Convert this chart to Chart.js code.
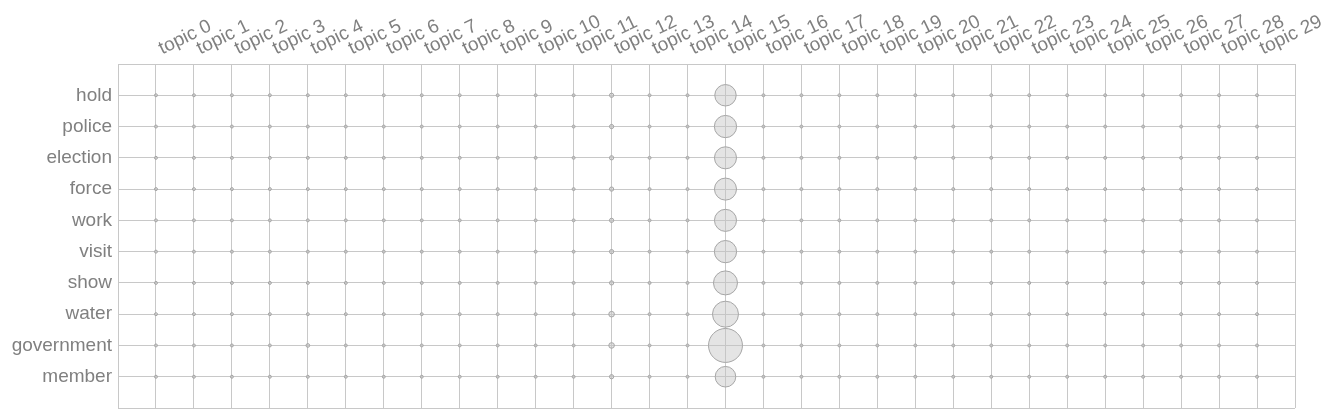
<!DOCTYPE html>
<html>
<head>
<meta charset="utf-8">
<script src="https://cdn.jsdelivr.net/npm/chart.js@4/dist/chart.umd.min.js"></script>
<style>
  html, body { margin: 0; padding: 0; background: #fff; overflow: hidden; }
  canvas { display: block; }
</style>
</head>
<body>
<canvas id="chart" width="1335" height="419"></canvas>
<script>
const topics = ['topic 0', 'topic 1', 'topic 2', 'topic 3', 'topic 4', 'topic 5', 'topic 6', 'topic 7',
  'topic 8', 'topic 9', 'topic 10', 'topic 11', 'topic 12', 'topic 13', 'topic 14', 'topic 15',
  'topic 16', 'topic 17', 'topic 18', 'topic 19', 'topic 20', 'topic 21', 'topic 22', 'topic 23',
  'topic 24', 'topic 25', 'topic 26', 'topic 27', 'topic 28', 'topic 29'];

const words = ['hold', 'police', 'election', 'force', 'work', 'visit', 'show', 'water', 'government', 'member'];

// word weight per topic
const hold       = [1,1,1,1,1,1,1,1,1,1,1,1,2,1,1,51,1,1,1,1,1,1,1,1,1,1,1,1,1,1];
const police     = [1,1,1,1,1,1,1,1,1,1,1,1,2,1,1,55,1,1,1,1,1,1,1,1,1,1,1,1,1,1];
const election   = [1,1,1,1,1,1,1,1,1,1,1,1,2,1,1,54,1,1,1,1,1,1,1,1,1,1,1,1,1,1];
const force      = [1,1,1,1,1,1,1,1,1,1,1,1,2,1,1,54,1,1,1,1,1,1,1,1,1,1,1,1,1,1];
const work       = [1,1,1,1,1,1,1,1,1,1,1,1,2,1,1,54,1,1,1,1,1,1,1,1,1,1,1,1,1,1];
const visit      = [1,1,1,1,1,1,1,1,1,1,1,1,2,1,1,55,1,1,1,1,1,1,1,1,1,1,1,1,1,1];
const show       = [1,1,1,1,1,1,1,1,1,1,1,1,2,1,1,64,1,1,1,1,1,1,1,1,1,1,1,1,1,1];
const water      = [1,1,1,1,1,1,1,1,1,1,1,1,3.5,1,1,75,1,1,1,1,1,1,1,1,1,1,1,1,1,1];
const government = [1,1,1,1,1.5,1,1,1,1,1,1,1,3.5,1,1,128,1,1,1,1,1,1,1,1,1,1,1,1,1,1];
const member     = [1,1,1,1,1,1,1,1,1,1,1,1,2,1,1,47,1,1,1,1,1,1,1,1,1,1,1,1,1,1];

const rows = [hold, police, election, force, work, visit, show, water, government, member];

const points = [];
rows.forEach((row, wi) => {
  row.forEach((v, ti) => {
    points.push({ x: ti, y: wi, r: Math.sqrt(v) * 1.5 });
  });
});

const textColor = '#808080';
const gridColor = '#c8c8c8';

new Chart(document.getElementById('chart'), {
  type: 'bubble',
  data: {
    datasets: [{
      data: points,
      backgroundColor: 'rgba(196, 196, 196, 0.45)',
      borderColor: '#a6a6a6',
      borderWidth: 1,
      hoverRadius: 0
    }]
  },
  options: {
    responsive: false,
    devicePixelRatio: 1,
    animation: false,
    // big bubbles would otherwise push the plot area inwards
    layout: { autoPadding: false, padding: { top: 0, right: 40, bottom: 11, left: 0 } },
    plugins: { legend: { display: false }, tooltip: { enabled: false } },
    scales: {
      x: {
        type: 'linear',
        position: 'top',
        min: -1,
        max: 30,
        afterBuildTicks: (scale) => {
          scale.ticks = [];
          for (let i = -1; i <= 30; i++) scale.ticks.push({ value: i });
        },
        afterFit: (scale) => {
          scale.height = 64;
          scale.paddingLeft = 0;
          scale.paddingRight = 0;
        },
        grid: { color: gridColor, drawTicks: false, lineWidth: 1 },
        border: { color: gridColor },
        ticks: {
          autoSkip: false,
          minRotation: 26,
          maxRotation: 26,
          padding: 4,
          labelOffset: 14,
          color: textColor,
          font: { family: 'Liberation Sans, Arial, sans-serif', size: 19 },
          callback: (v) => topics[v] || ''
        }
      },
      y: {
        type: 'linear',
        reverse: true,
        min: -1,
        max: 10,
        afterBuildTicks: (scale) => {
          scale.ticks = [];
          for (let i = -1; i <= 10; i++) scale.ticks.push({ value: i });
        },
        afterFit: (scale) => {
          scale.width = 118;
          scale.paddingTop = 0;
          scale.paddingBottom = 0;
        },
        grid: { color: gridColor, drawTicks: false, lineWidth: 1 },
        border: { color: gridColor },
        ticks: {
          autoSkip: false,
          padding: 6,
          color: textColor,
          font: { family: 'Liberation Sans, Arial, sans-serif', size: 19 },
          callback: (v) => words[v] || ''
        }
      }
    }
  }
});
</script>
</body>
</html>
